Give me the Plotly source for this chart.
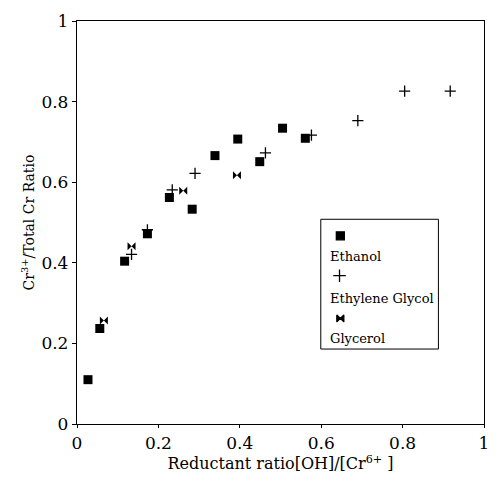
import plotly.graph_objects as go

# Data
ethanol_x = [0.027, 0.056, 0.117, 0.173, 0.227, 0.283, 0.339, 0.395, 0.449, 0.505, 0.561]
ethanol_y = [0.110, 0.237, 0.404, 0.472, 0.562, 0.533, 0.666, 0.707, 0.651, 0.734, 0.709]

eg_x = [0.134, 0.173, 0.234, 0.290, 0.463, 0.576, 0.690, 0.805, 0.917]
eg_y = [0.421, 0.482, 0.581, 0.622, 0.673, 0.717, 0.753, 0.826, 0.826]

gly_x = [0.066, 0.134, 0.261, 0.393]
gly_y = [0.257, 0.441, 0.579, 0.617]

x_ticks = [0, 0.2, 0.4, 0.6, 0.8, 1]
x_ticklabels = ["0", "0.2", "0.4", "0.6", "0.8", "1"]
y_ticks = [0, 0.2, 0.4, 0.6, 0.8, 1]
y_ticklabels = ["0", "0.2", "0.4", "0.6", "0.8", "1"]

series_names = ["Ethanol", "Ethylene Glycol", "Glycerol"]

FONT = "DejaVu Serif"

fig = go.Figure()
fig.add_trace(go.Scatter(x=ethanol_x, y=ethanol_y, mode="markers", name=series_names[0],
                         marker=dict(symbol="square", size=9, color="black")))
fig.add_trace(go.Scatter(x=eg_x, y=eg_y, mode="markers", name=series_names[1],
                         marker=dict(symbol="cross-thin", size=8, color="black",
                                     line=dict(width=1.3, color="black"))))
fig.add_trace(go.Scatter(x=gly_x, y=gly_y, mode="markers", name=series_names[2],
                         marker=dict(symbol="bowtie", size=8, color="black")))

# Custom legend (marker above label), drawn on an overlay axis in paper units
leg_mx = [0.647, 0.645, 0.647]
leg_my = [0.467, 0.368, 0.262]
leg_ty = [0.416, 0.312, 0.211]
leg_symbols = ["square", "cross-thin", "bowtie"]
leg_sizes = [8, 9, 7]
for i in range(3):
    fig.add_trace(go.Scatter(x=[leg_mx[i]], y=[leg_my[i]], xaxis="x2", yaxis="y2", mode="markers",
                             showlegend=False, hoverinfo="skip",
                             marker=dict(symbol=leg_symbols[i], size=leg_sizes[i], color="black",
                                         line=dict(width=1.3, color="black"))))
    fig.add_annotation(x=0.616, y=leg_ty[i], xref="paper", yref="paper", text=series_names[i],
                       showarrow=False, xanchor="left", yanchor="middle",
                       font=dict(family=FONT, size=13, color="black"))

fig.add_shape(type="rect", xref="paper", yref="paper", x0=0.599, x1=0.888, y0=0.186, y1=0.508,
              line=dict(color="black", width=1), fillcolor="rgba(0,0,0,0)")

fig.update_layout(
    width=500, height=486,
    margin=dict(l=77, r=12, t=11, b=62),
    paper_bgcolor="white", plot_bgcolor="white",
    showlegend=False,
    font=dict(family=FONT, color="black"),
    xaxis=dict(range=[0, 1], tickvals=x_ticks, ticktext=x_ticklabels, showgrid=False, zeroline=False,
               showline=True, linecolor="black", linewidth=1.3, mirror=True,
               ticks="outside", ticklen=3, tickcolor="black",
               tickfont=dict(family=FONT, size=17),
               title=dict(text="Reductant ratio[OH]/[Cr<sup>6+</sup> ]", font=dict(family=FONT, size=16),
                          standoff=6)),
    yaxis=dict(range=[0, 1], tickvals=y_ticks, ticktext=y_ticklabels, showgrid=False, zeroline=False,
               showline=True, linecolor="black", linewidth=1.3, mirror=True,
               ticks="outside", ticklen=4, tickcolor="black",
               tickfont=dict(family=FONT, size=17),
               title=dict(text="Cr<sup>3+</sup>/Total Cr Ratio", font=dict(family=FONT, size=14),
                          standoff=3)),
    xaxis2=dict(range=[0, 1], overlaying="x", visible=False, domain=[0, 1]),
    yaxis2=dict(range=[0, 1], overlaying="y", visible=False, domain=[0, 1]),
)

fig.write_html("out.html")
